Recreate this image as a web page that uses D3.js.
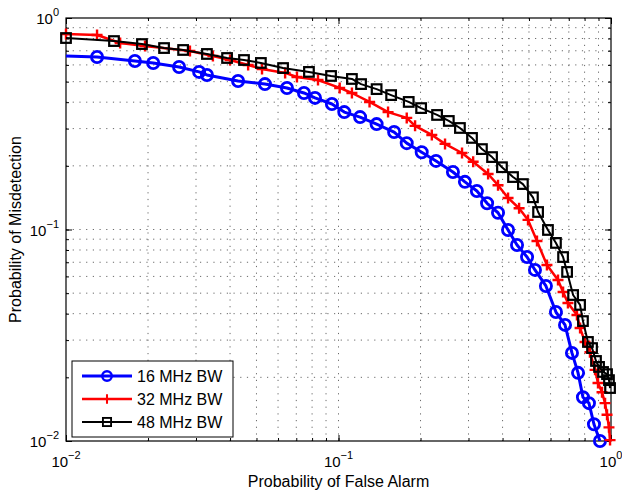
<!DOCTYPE html>
<html>
<head>
<meta charset="utf-8">
<script src="https://cdn.jsdelivr.net/npm/d3@7"></script>
<style>
  body { margin: 0; background: #fff; }
  text { font-family: "Liberation Sans", Arial, Helvetica, sans-serif; fill: #000; }
</style>
</head>
<body>
<div id="chart"></div>
<script>
// Values (log-log ROC curves)
const seriesNames = ['16 MHz BW', '32 MHz BW', '48 MHz BW'];
const decadeExps = [-2, -1, 0];

const pfa16 = [0.0085, 0.0130, 0.0179, 0.0209, 0.0260, 0.0308, 0.0329, 0.0428, 0.0537, 0.0647,
  0.0747, 0.0820, 0.0946, 0.105, 0.120, 0.138, 0.160, 0.178, 0.202, 0.228,
  0.263, 0.291, 0.322, 0.351, 0.385, 0.419, 0.452, 0.492, 0.526, 0.577,
  0.628, 0.678, 0.719, 0.757, 0.789, 0.830, 0.866, 0.911];
const pmd16 = [0.665, 0.654, 0.626, 0.613, 0.587, 0.556, 0.538, 0.504, 0.487, 0.467,
  0.442, 0.419, 0.392, 0.359, 0.340, 0.315, 0.289, 0.256, 0.232, 0.211,
  0.187, 0.168, 0.152, 0.133, 0.120, 0.0995, 0.0845, 0.0741, 0.0644, 0.0541,
  0.0407, 0.0354, 0.0261, 0.0210, 0.0161, 0.0151, 0.0120, 0.0100];

const pfa32 = [0.0100, 0.0130, 0.0158, 0.0195, 0.0285, 0.0346, 0.0400, 0.0466, 0.0524, 0.0637,
  0.0704, 0.0841, 0.101, 0.112, 0.130, 0.152, 0.178, 0.191, 0.220, 0.246,
  0.284, 0.312, 0.354, 0.385, 0.419, 0.460, 0.496, 0.535, 0.582, 0.639,
  0.667, 0.695, 0.750, 0.770, 0.803, 0.837, 0.874, 0.896, 0.927, 0.951,
  0.967, 0.983, 0.992];
const pmd32 = [0.840, 0.831, 0.762, 0.737, 0.698, 0.661, 0.633, 0.599, 0.574, 0.550,
  0.526, 0.509, 0.467, 0.442, 0.401, 0.359, 0.337, 0.309, 0.280, 0.254,
  0.230, 0.209, 0.183, 0.162, 0.141, 0.126, 0.111, 0.0882, 0.0679, 0.0577,
  0.0506, 0.0449, 0.0394, 0.0342, 0.0294, 0.0263, 0.0217, 0.0188, 0.0170, 0.0151,
  0.0133, 0.0116, 0.0101];

const pfa48 = [0.0100, 0.0150, 0.0190, 0.0229, 0.0269, 0.0329, 0.0390, 0.0450, 0.0519, 0.0626,
  0.0779, 0.0939, 0.112, 0.121, 0.138, 0.156, 0.181, 0.201, 0.230, 0.254,
  0.279, 0.309, 0.336, 0.366, 0.398, 0.437, 0.475, 0.517, 0.540, 0.587,
  0.628, 0.667, 0.690, 0.726, 0.770, 0.789, 0.823, 0.852, 0.881, 0.904,
  0.935, 0.967, 0.983, 0.992];
const pmd48 = [0.804, 0.778, 0.753, 0.721, 0.706, 0.676, 0.647, 0.633, 0.613, 0.580,
  0.556, 0.532, 0.515, 0.487, 0.461, 0.432, 0.401, 0.375, 0.348, 0.326,
  0.302, 0.271, 0.240, 0.220, 0.197, 0.177, 0.164, 0.142, 0.121, 0.0995,
  0.0864, 0.0741, 0.0630, 0.0490, 0.0440, 0.0369, 0.0294, 0.0275, 0.0239, 0.0224,
  0.0212, 0.0207, 0.0194, 0.0178];

const width = 622, height = 495;
const margin = {top: 18, right: 11, bottom: 54, left: 66};

const series = [
  {name: seriesNames[0], xs: pfa16, ys: pmd16, color: '#0000ff', lw: 3, marker: 'circle'},
  {name: seriesNames[1], xs: pfa32, ys: pmd32, color: '#ff0000', lw: 2.5, marker: 'plus'},
  {name: seriesNames[2], xs: pfa48, ys: pmd48, color: '#000000', lw: 2, marker: 'square'}
];

const x = d3.scaleLog().domain([1e-2, 1]).range([margin.left, width - margin.right]);
const y = d3.scaleLog().domain([1e-2, 1]).range([height - margin.bottom, margin.top]);

const svg = d3.select('#chart').append('svg')
  .attr('width', width)
  .attr('height', height);

// all 1..9 multiples for grid and minor ticks, decades for major ticks
const allTicks = x.ticks();
const majors = decadeExps.map(e => Math.pow(10, e));

// dotted grid
const grid = svg.append('g')
  .attr('stroke', '#444')
  .attr('stroke-width', 0.8)
  .attr('stroke-dasharray', '1.2,5.5');
grid.selectAll('.vgrid')
  .data(allTicks.filter(v => v > 1e-2 && v < 1))
  .enter().append('line')
  .attr('x1', d => x(d)).attr('x2', d => x(d))
  .attr('y1', margin.top).attr('y2', height - margin.bottom);
grid.selectAll('.hgrid')
  .data(allTicks.filter(v => v > 1e-2 && v < 1))
  .enter().append('line')
  .attr('y1', d => y(d)).attr('y2', d => y(d))
  .attr('x1', margin.left).attr('x2', width - margin.right);

// axis ticks on all four sides, pointing inward
function tickAxis(gen, transform, values, size) {
  const g = svg.append('g')
    .attr('transform', transform)
    .call(gen.tickValues(values).tickSize(size).tickFormat(''));
  g.select('.domain').remove();
  g.selectAll('line').attr('stroke', '#000').attr('stroke-width', 1);
}
const bottomY = height - margin.bottom, rightX = width - margin.right;
[[majors, -6], [allTicks, -3]].forEach(([vals, size]) => {
  tickAxis(d3.axisBottom(x), `translate(0,${bottomY})`, vals, size);
  tickAxis(d3.axisTop(x), `translate(0,${margin.top})`, vals, size);
  tickAxis(d3.axisLeft(y), `translate(${margin.left},0)`, vals, size);
  tickAxis(d3.axisRight(y), `translate(${rightX},0)`, vals, size);
});

// box
svg.append('rect')
  .attr('x', margin.left).attr('y', margin.top)
  .attr('width', rightX - margin.left).attr('height', bottomY - margin.top)
  .attr('fill', 'none').attr('stroke', '#000').attr('stroke-width', 1.2);

// tick labels with superscript exponents
function expLabel(sel, e) {
  sel.append('tspan').text('10');
  sel.append('tspan')
    .attr('dy', -8)
    .attr('font-size', 11)
    .text(String(e).replace('-', '\u2212'));
}
decadeExps.forEach(e => {
  svg.append('text')
    .attr('x', x(Math.pow(10, e)))
    .attr('y', bottomY + 26)
    .attr('text-anchor', 'middle')
    .attr('font-size', 15)
    .call(expLabel, e);
  svg.append('text')
    .attr('x', margin.left - 7)
    .attr('y', y(Math.pow(10, e)) + 6)
    .attr('text-anchor', 'end')
    .attr('font-size', 15)
    .call(expLabel, e);
});

// axis titles
svg.append('text')
  .attr('x', (margin.left + rightX) / 2)
  .attr('y', 487)
  .attr('text-anchor', 'middle')
  .attr('font-size', 16)
  .text('Probability of False Alarm');
svg.append('text')
  .attr('transform', `translate(21,${(margin.top + bottomY) / 2}) rotate(-90)`)
  .attr('text-anchor', 'middle')
  .attr('font-size', 16)
  .text('Probability of Misdetection');

// clip lines to the axes area
svg.append('clipPath').attr('id', 'plot-clip')
  .append('rect')
  .attr('x', margin.left).attr('y', margin.top)
  .attr('width', rightX - margin.left).attr('height', bottomY - margin.top);

function drawMarker(g, type, color) {
  if (type === 'circle') {
    g.append('circle').attr('r', 5.6)
      .attr('fill', 'none').attr('stroke', color).attr('stroke-width', 2.8);
  } else if (type === 'plus') {
    g.append('path').attr('d', 'M-5.5,0H5.5M0,-5.5V5.5')
      .attr('fill', 'none').attr('stroke', color).attr('stroke-width', 2.4);
  } else {
    g.append('rect').attr('x', -4.8).attr('y', -4.8).attr('width', 9.6).attr('height', 9.6)
      .attr('fill', 'none').attr('stroke', color).attr('stroke-width', 2.2);
  }
}

const line = d3.line().x(d => x(d[0])).y(d => y(d[1]));

series.forEach(s => {
  const pts = s.xs.map((v, i) => [v, s.ys[i]]);
  svg.append('path')
    .datum(pts)
    .attr('clip-path', 'url(#plot-clip)')
    .attr('fill', 'none')
    .attr('stroke', s.color)
    .attr('stroke-width', s.lw)
    .attr('stroke-linejoin', 'round')
    .attr('d', line);
  svg.append('g').selectAll('g')
    .data(pts.filter(d => d[0] >= 1e-2 && d[0] <= 1 && d[1] >= 1e-2 && d[1] <= 1))
    .enter().append('g')
    .attr('transform', d => `translate(${x(d[0])},${y(d[1])})`)
    .each(function() { drawMarker(d3.select(this), s.marker, s.color); });
});

// legend
const legend = svg.append('g').attr('transform', 'translate(72,361)');
legend.append('rect')
  .attr('width', 161).attr('height', 76)
  .attr('fill', '#fff').attr('stroke', '#000').attr('stroke-width', 1);
series.forEach((s, i) => {
  const row = legend.append('g').attr('transform', `translate(0,${15 + i * 23})`);
  row.append('line')
    .attr('x1', 10).attr('x2', 60)
    .attr('stroke', s.color).attr('stroke-width', s.lw);
  drawMarker(row.append('g').attr('transform', 'translate(35,0) scale(0.85)'), s.marker, s.color);
  row.append('text')
    .attr('x', 65).attr('y', 6)
    .attr('font-size', 16)
    .text(s.name);
});
</script>
</body>
</html>
